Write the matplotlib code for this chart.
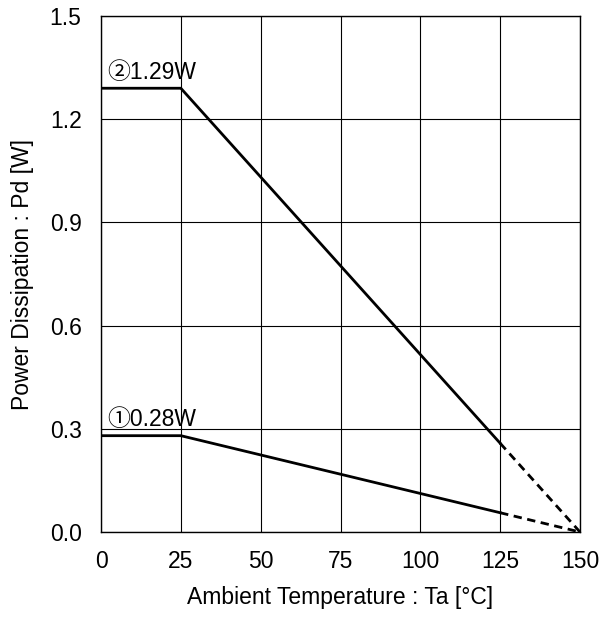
import matplotlib
matplotlib.use("Agg")
import matplotlib.pyplot as plt

plt.rcParams['font.family'] = ['Liberation Sans', 'DejaVu Sans']

# data
temp_solid = [0, 25, 125]
temp_dash = [125, 150]
pd1_solid = [0.28, 0.28, 0.056]
pd1_dash = [0.056, 0.0]
pd2_solid = [1.29, 1.29, 0.258]
pd2_dash = [0.258, 0.0]
xticks = [0, 25, 50, 75, 100, 125, 150]
yticks = [0.0, 0.3, 0.6, 0.9, 1.2, 1.5]
labels = ["①0.28W", "②1.29W"]

FS = 16.5
label_family = ['Liberation Sans', 'Noto Sans CJK JP', 'DejaVu Sans']

fig = plt.figure(figsize=(6.02, 6.17), dpi=100)
ax = fig.add_axes([101/602, 1 - 532/617, 479/602, 516/617])

ax.plot(temp_solid, pd1_solid, color='black', lw=2)
ax.plot(temp_dash, pd1_dash, color='black', lw=2, ls=(0, (3, 2)))
ax.plot(temp_solid, pd2_solid, color='black', lw=2)
ax.plot(temp_dash, pd2_dash, color='black', lw=2, ls=(0, (3, 2)))

ax.text(2, pd1_solid[0] + 0.028, labels[0], fontsize=FS, ha='left', va='baseline',
        family=label_family)
ax.text(2, pd2_solid[0] + 0.028, labels[1], fontsize=FS, ha='left', va='baseline',
        family=label_family)

ax.set_xlim(0, 150)
ax.set_ylim(0, 1.5)
ax.set_xticks(xticks)
ax.set_yticks(yticks)
ax.set_yticklabels([f"{v:.1f}" for v in yticks])
ax.grid(True, color='black', lw=0.8)
ax.tick_params(length=0, labelsize=FS)
ax.tick_params(axis='y', pad=14)
ax.tick_params(axis='x', pad=13)
for s in ax.spines.values():
    s.set_linewidth(1.0)
ax.set_xlabel("Ambient Temperature : Ta [°C]", fontsize=FS, labelpad=9)
ax.set_ylabel("Power Dissipation : Pd [W]", fontsize=FS, labelpad=11)

fig.savefig("out.png", dpi=100)
